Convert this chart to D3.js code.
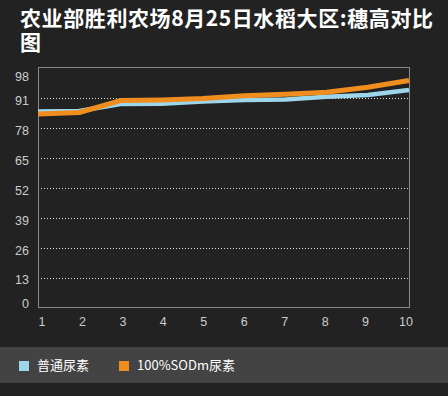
<!DOCTYPE html>
<html>
<head>
<meta charset="utf-8">
<script src="https://cdn.jsdelivr.net/npm/d3@7"></script>
<style>
html, body { margin:0; padding:0; background:#222222; }
svg { display:block; }
</style>
</head>
<body>
<svg id="chart" width="448" height="396"></svg>
<script>
// data
var days = [1, 2, 3, 4, 5, 6, 7, 8, 9, 10];
var normal_urea = [85.3, 85.5, 88.5, 88.6, 89.6, 90.3, 90.5, 91.7, 92.4, 94.6];
var sod_urea = [84.2, 84.8, 90.0, 90.3, 90.9, 92.1, 92.7, 93.6, 95.8, 98.7];
var y_ticks = [0, 13, 26, 39, 52, 65, 78, 91, 98];
var series_names = ["普通尿素", "100%SODm尿素"];
var series_colors = ["#9dd6ea", "#ef8d1f"];

var svg = d3.select("#chart");
var plot_left = 38, plot_right = 409, plot_top = 67, plot_bottom = 307.5;

var x = d3.scaleLinear().domain([1, 10]).range([plot_left, plot_right]);
var x_label = d3.scaleLinear().domain([1, 10]).range([42, 406]);
var y = d3.scaleLinear().domain([0, 104.6]).range([plot_bottom, plot_top]);

// title
var title = svg.append("text")
  .style("font-family", "'Noto Sans CJK SC', sans-serif")
  .style("font-weight", "bold")
  .style("font-size", "21px")
  .style("letter-spacing", "0.6px")
  .style("fill", "#ffffff");
title.append("tspan").attr("x", 20).attr("y", 26).text("农业部胜利农场8月25日水稻大区:穗高对比");
title.append("tspan").attr("x", 20).attr("y", 50).text("图");

// gridlines (dotted), not for 0 and top
svg.append("g").selectAll("line")
  .data(y_ticks.filter(d => d > 0 && d < 95))
  .enter().append("line")
  .attr("x1", plot_left).attr("x2", plot_right)
  .attr("y1", d => Math.round(y(d)) + 0.5)
  .attr("y2", d => Math.round(y(d)) + 0.5)
  .style("stroke", "#e0e0e0")
  .style("stroke-width", 1)
  .style("stroke-dasharray", "1,2");

// axis box
svg.append("rect")
  .attr("x", plot_left + 0.5).attr("y", plot_top + 0.5)
  .attr("width", plot_right - plot_left).attr("height", plot_bottom - plot_top - 0.5)
  .style("fill", "none")
  .style("stroke", "#8a8a8a")
  .style("stroke-width", 1);

// y labels
svg.append("g").selectAll("text")
  .data(y_ticks)
  .enter().append("text")
  .attr("x", 29)
  .attr("y", function(d) {
    if (d == 0) return y(d) - 4;
    if (d == 98) return y(d) - 6;
    return y(d) + 2.5;
  })
  .attr("dy", "0.35em")
  .attr("text-anchor", "end")
  .style("font-family", "'Liberation Sans', sans-serif")
  .style("font-size", "12.5px")
  .style("fill", "#cccccc")
  .text(d => d);

// x labels
svg.append("g").selectAll("text")
  .data(days)
  .enter().append("text")
  .attr("x", d => x_label(d))
  .attr("y", 322)
  .attr("dy", "0.35em")
  .attr("text-anchor", "middle")
  .style("font-family", "'Liberation Sans', sans-serif")
  .style("font-size", "12.5px")
  .style("fill", "#cccccc")
  .text(d => d);

// lines
var line = d3.line()
  .x((d, i) => x(days[i]))
  .y(d => y(d));

svg.append("path")
  .datum(normal_urea)
  .attr("d", line)
  .style("fill", "none")
  .style("stroke", series_colors[0])
  .style("stroke-width", 4.5)
  .style("stroke-linejoin", "round");

svg.append("path")
  .datum(sod_urea)
  .attr("d", line)
  .style("fill", "none")
  .style("stroke", series_colors[1])
  .style("stroke-width", 5)
  .style("stroke-linejoin", "round");

// legend band
svg.append("rect")
  .attr("x", 0).attr("y", 347)
  .attr("width", 448).attr("height", 36)
  .style("fill", "#434343");

var legend_x = [19, 119];
var legend = svg.append("g").selectAll("g")
  .data(series_names)
  .enter().append("g")
  .attr("transform", (d, i) => "translate(" + legend_x[i] + ",361)");

legend.append("rect")
  .attr("width", 10).attr("height", 10)
  .style("fill", (d, i) => series_colors[i]);

legend.append("text")
  .attr("x", 18).attr("y", 4)
  .attr("dy", "0.35em")
  .style("font-family", "'Noto Sans CJK SC', sans-serif")
  .style("font-size", "13px")
  .style("fill", "#ffffff")
  .text(d => d);
</script>
</body>
</html>
